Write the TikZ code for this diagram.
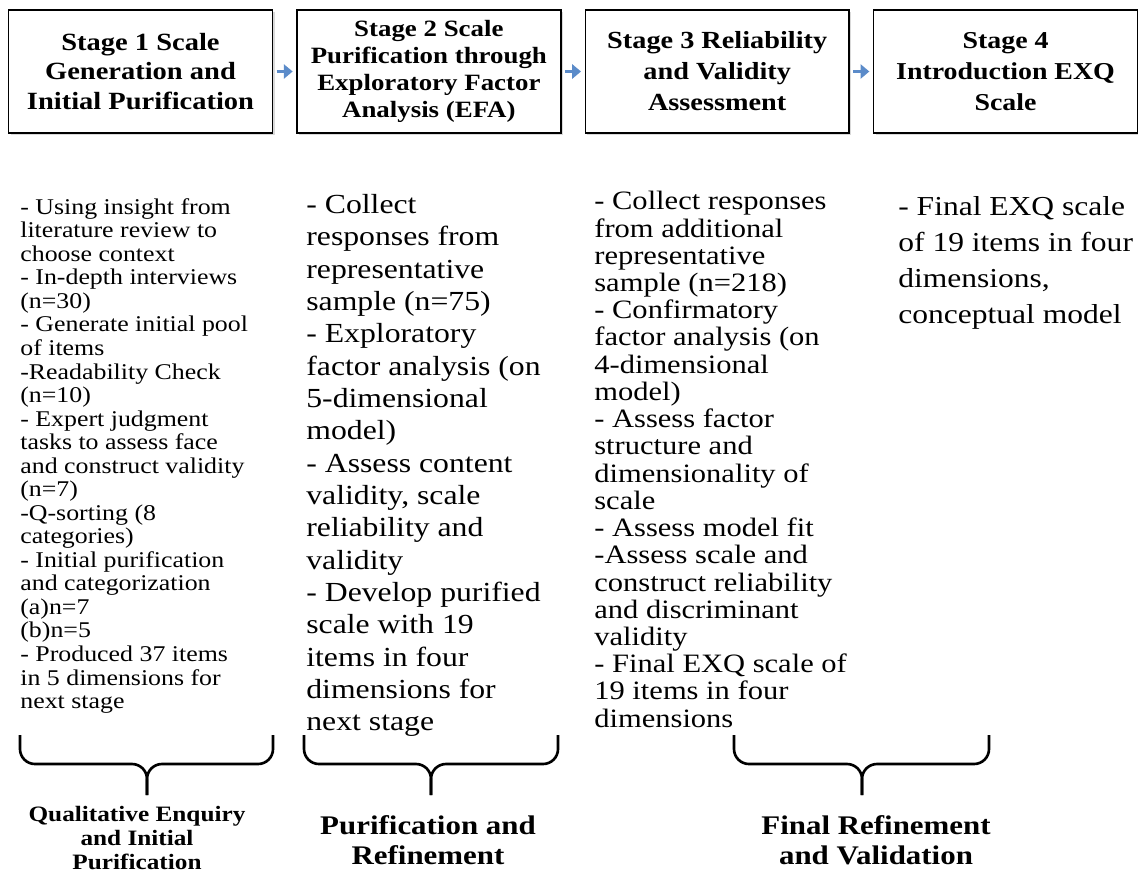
\documentclass[tikz,border=0pt]{standalone}
\usepackage{fontspec}
\setmainfont{Liberation Serif}[FakeStretch=1.15]
\usepackage{tikz}
\usetikzlibrary{positioning,arrows.meta,shadows}

\definecolor{flowblue}{HTML}{5B8BC9}

\begin{document}
\begin{tikzpicture}[x=0.02cm, y=-0.02cm, node distance=0.46cm,
    stage/.style={rectangle, draw, fill=white, line width=0.8pt, minimum width=5.28cm, minimum height=2.46cm, align=center, inner sep=2pt,
        drop shadow={shadow xshift=1.2pt, shadow yshift=-1.2pt, opacity=0.3}},
    steps/.style={anchor=north west, align=left, inner sep=0pt},
    phase/.style={align=center, inner sep=0pt},
    flow/.style={-{Triangle[length=5pt,width=8pt]}, flowblue, line width=1.6pt, shorten <=2pt, shorten >=2pt},
    bracket/.style={line width=1.5pt, rounded corners=0.3cm}]
    \useasboundingbox (0,0) rectangle (1138,877);

    % stage boxes
    \node[stage, font=\bfseries\fontsize{14.1}{17}\selectfont] (gen) at (140.5,71.5) {Stage 1 Scale\\Generation and\\Initial Purification};
    \node[stage, font=\bfseries\fontsize{13.3}{15.4}\selectfont, right=of gen] (efa) {Stage 2 Scale\\Purification through\\Exploratory Factor\\Analysis (EFA)};
    \node[stage, font=\bfseries\fontsize{14}{17.6}\selectfont, right=of efa] (rel) {Stage 3 Reliability\\and Validity\\Assessment};
    \node[stage, font=\bfseries\fontsize{13.8}{17.6}\selectfont, right=of rel] (intro) {Stage 4\\Introduction EXQ\\Scale};

    \draw[flow] (gen) -- (efa);
    \draw[flow] (efa) -- (rel);
    \draw[flow] (rel) -- (intro);

    % task lists
    \node[steps, font=\fontsize{12.8}{13.4}\selectfont] (genlist) at (20,198) {- Using insight from\\literature review to\\choose context\\- In-depth interviews\\(n=30)\\- Generate initial pool\\of items\\-Readability Check\\(n=10)\\- Expert judgment\\tasks to assess face\\and construct validity\\(n=7)\\-Q-sorting (8\\categories)\\- Initial purification\\and categorization\\(a)n=7\\(b)n=5\\- Produced 37 items\\in 5 dimensions for\\next stage};
    \node[steps, font=\fontsize{15.7}{18.4}\selectfont] (efalist) at (306,194) {- Collect\\responses from\\representative\\sample (n=75)\\- Exploratory\\factor analysis (on\\5-dimensional\\model)\\- Assess content\\validity, scale\\reliability and\\validity\\- Develop purified\\scale with 19\\items in four\\dimensions for\\next stage};
    \node[steps, font=\fontsize{15.1}{15.5}\selectfont] (rellist) at (594,191) {- Collect responses\\from additional\\representative\\sample (n=218)\\- Confirmatory\\factor analysis (on\\4-dimensional\\model)\\- Assess factor\\structure and\\dimensionality of\\scale\\- Assess model fit\\-Assess scale and\\construct reliability\\and discriminant\\validity\\- Final EXQ scale of\\19 items in four\\dimensions};
    \node[steps, font=\fontsize{15.6}{20.5}\selectfont] (introlist) at (898,196) {- Final EXQ scale\\of 19 items in four\\dimensions,\\conceptual model};

    % braces: left end / tip / right end
    \foreach \l/\m/\r in {20/147/273, 304/431/558, 734/862/989} {
        \draw[bracket] (\l,735) |- (\m,764) -- (\m,795);
        \draw[bracket] (\r,735) |- (\m,764) -- (\m,795);
    }

    % phase labels
    \node[phase, font=\bfseries\fontsize{12.5}{13.7}\selectfont] (qual) at (137,838) {Qualitative Enquiry\\and Initial\\Purification};
    \node[phase, font=\bfseries\fontsize{15.3}{17}\selectfont] (pur) at (428,840) {Purification and\\Refinement};
    \node[phase, font=\bfseries\fontsize{15.3}{17}\selectfont] (fin) at (876,840) {Final Refinement\\and Validation};
\end{tikzpicture}
\end{document}
